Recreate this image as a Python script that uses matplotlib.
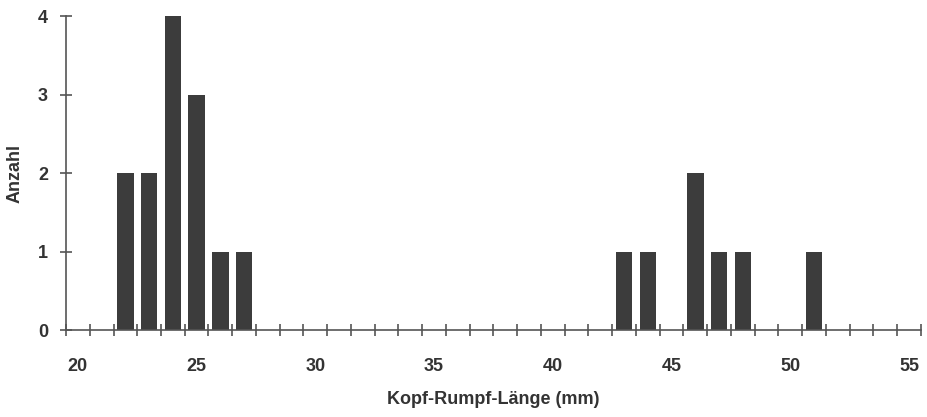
import matplotlib.pyplot as plt
import numpy as np

# Kopf-Rumpf-Laenge (mm) und Anzahl
laenge = [22, 23, 24, 25, 26, 27, 43, 44, 46, 47, 48, 51]
anzahl = [2, 2, 4, 3, 1, 1, 1, 1, 2, 1, 1, 1]
x_labels = [20, 25, 30, 35, 40, 45, 50, 55]
y_labels = [0, 1, 2, 3, 4]

plt.rcParams['font.family'] = ['Liberation Sans', 'DejaVu Sans']
plt.rcParams['font.weight'] = 'bold'
plt.rcParams['axes.labelweight'] = 'bold'

text_col = '#333333'
line_col = '#555555'

fig = plt.figure(figsize=(9.27, 4.17), dpi=100)
ax = fig.add_axes([0.0712, 0.2086, 0.9223, 0.753])

ax.bar(laenge, anzahl, width=0.7, color='#3c3c3c', edgecolor='none')

ax.set_xlim(19.5, 55.5)
ax.set_ylim(0, 4)

for side in ['top', 'right']:
    ax.spines[side].set_visible(False)
for side in ['left', 'bottom']:
    ax.spines[side].set_color(line_col)
    ax.spines[side].set_linewidth(1.2)

# labels at integer values, tick marks at bin edges
ax.set_xticks(x_labels)
ax.set_xticklabels([str(v) for v in x_labels])
ax.set_xticks(np.arange(19.5, 56, 1), minor=True)
ax.tick_params(axis='x', which='major', length=0, pad=20, labelsize=13,
               labelcolor=text_col)
ax.tick_params(axis='x', which='minor', direction='inout', length=8,
               width=1.2, color=line_col)

ax.set_yticks(y_labels)
ax.tick_params(axis='y', direction='inout', length=8, width=1.2,
               color=line_col, pad=9, labelsize=13, labelcolor=text_col)

ax.set_xlabel('Kopf-Rumpf-Länge (mm)', fontsize=13, fontweight='bold',
              color=text_col, labelpad=12)
ax.set_ylabel('Anzahl', fontsize=13, fontweight='bold', color=text_col,
              labelpad=10)

fig.savefig('out.png', dpi=100)
